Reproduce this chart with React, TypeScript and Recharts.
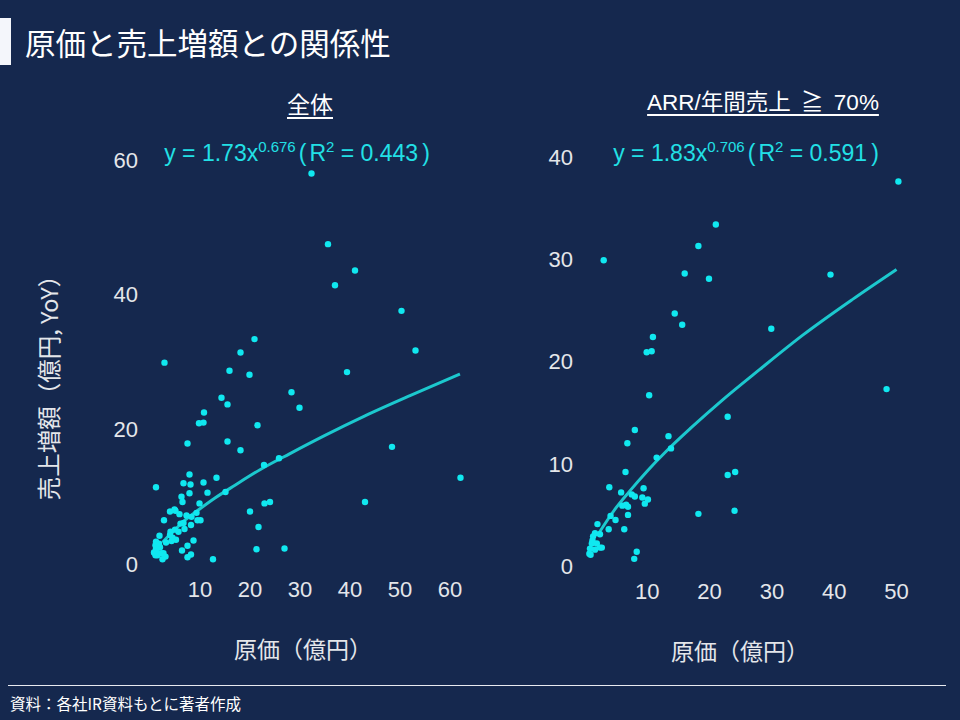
import React from "react";
import { ComposedChart, Scatter, Line, XAxis, YAxis } from "recharts";

// 全体: [原価(億円), 売上増額(億円)]
const allPoints: [number, number][] = [
  [32.3, 58.0], [35.6, 47.5], [41.0, 43.6], [37.0, 41.4], [50.3, 37.6], [20.9, 33.4],
  [53.1, 31.7], [18.1, 31.4], [2.9, 29.9], [15.9, 28.7], [19.9, 28.1], [39.4, 28.5],
  [28.3, 25.5], [29.9, 23.2], [14.3, 24.7], [15.5, 23.7], [10.8, 22.5], [9.8, 20.9],
  [10.7, 21.0], [21.5, 20.6], [7.5, 17.9], [15.5, 18.2], [18.1, 16.9], [48.4, 17.4],
  [22.8, 14.7], [25.8, 15.7], [62.1, 12.8], [1.2, 11.4], [7.9, 13.3], [6.7, 12.0],
  [8.1, 11.8], [10.7, 12.1], [13.3, 12.8], [11.5, 10.6], [7.9, 10.5], [6.3, 10.0],
  [6.5, 9.2], [15.1, 10.7], [9.9, 9.0], [43.0, 9.2], [22.9, 9.0], [24.0, 9.2],
  [20.0, 7.8], [21.7, 5.5], [21.3, 2.2], [26.9, 2.3], [12.6, 0.7],
  [4.0, 7.8], [4.9, 8.1], [5.1, 7.9], [2.8, 6.5], [5.9, 7.4], [7.3, 7.2], [8.3, 7.0],
  [9.3, 7.6], [9.5, 6.5], [10.1, 6.5], [8.2, 5.8], [6.1, 6.0], [6.7, 6.1], [6.9, 5.2],
  [5.0, 5.1], [5.7, 4.8], [4.1, 4.8], [1.9, 4.2], [4.0, 4.3], [4.5, 3.9], [5.2, 3.6],
  [8.7, 3.5], [3.2, 3.2], [4.3, 3.4], [7.5, 2.7], [1.1, 2.8], [1.7, 2.9], [2.0, 2.5],
  [1.2, 2.3], [6.4, 2.0], [0.9, 1.7], [1.5, 1.3], [2.7, 1.6], [3.1, 1.1], [2.5, 0.7],
  [8.2, 1.4], [7.5, 1.0], [1.2, 3.3], [0.8, 1.7], [1.7, 1.6], [1.1, 1.3], [2.3, 1.6],
  [1.8, 3.0],
];

// ARR/年間売上 ≧ 70%
const arrPoints: [number, number][] = [
  [50.3, 37.6], [21.0, 33.4], [18.2, 31.3], [3.0, 29.9], [16.0, 28.6], [19.9, 28.1],
  [39.4, 28.5], [14.4, 24.7], [15.6, 23.6], [29.9, 23.2], [10.9, 22.4], [9.9, 20.9],
  [10.7, 21.0], [48.4, 17.3], [10.3, 16.7], [22.9, 14.6], [8.0, 13.3], [13.4, 12.7],
  [6.8, 12.0], [13.8, 11.5], [11.5, 10.6], [6.5, 9.2], [22.9, 8.9], [24.1, 9.2],
  [3.9, 7.7], [9.4, 7.6], [5.8, 7.2], [7.5, 7.0], [8.0, 6.8], [9.2, 6.7], [10.1, 6.5],
  [9.6, 6.1], [6.0, 5.9], [6.6, 6.0], [6.9, 5.8], [6.9, 5.0], [18.2, 5.1], [24.0, 5.4],
  [4.1, 4.9], [4.9, 4.5], [2.0, 4.1], [3.8, 3.6], [6.3, 3.6], [8.3, 1.4], [7.9, 0.7],
  [1.6, 3.2], [1.3, 2.9], [1.2, 2.5], [1.1, 2.2], [0.8, 1.7], [0.7, 1.2], [0.9, 1.1],
  [1.9, 2.2], [2.4, 1.8], [2.7, 1.8], [1.6, 1.6], [2.4, 3.1],
];

// Fitted curves as drawn
const allTrend: [number, number][] = [
  [2.5, 3.2], [3.5, 4.0], [5, 5.1], [7, 6.5], [10, 8.2], [13, 9.8], [17, 11.7],
  [22, 14.0], [28, 16.4], [35, 19.1], [43, 22.0], [52, 25.0], [62, 28.2],
];
const arrTrend: [number, number][] = [
  [2, 3.0], [3.5, 4.4], [5, 5.7], [7, 7.2], [10, 9.3], [13, 11.2], [17, 13.5],
  [22, 16.2], [28, 19.2], [35, 22.6], [43, 26.1], [50, 29.0],
];

const allXTicks = [10, 20, 30, 40, 50, 60];
const allYTicks = [0, 20, 40, 60];
const arrXTicks = [10, 20, 30, 40, 50];
const arrYTicks = [0, 10, 20, 30, 40];

const BG = "#15284e";
const DOT = "#10e8f0";
const LINE = "#1cc8ce";
const TICK = "#e4e6ea";
const EQ = "#22e0e6";
const NUM_FONT = "'Liberation Sans', Arial, sans-serif";
const JP_FONT = "'Noto Sans CJK JP', 'Noto Sans', sans-serif";

const toObj = (arr: [number, number][]) => arr.map(([x, y]) => ({ x, y }));

const Dot = (props: any) => {
  const { cx, cy } = props;
  if (cx == null || cy == null) return null;
  return <circle cx={cx} cy={cy} r={3.2} fill={DOT} />;
};

type PanelProps = {
  points: [number, number][];
  trend: [number, number][];
  xDomain: [number, number];
  yDomain: [number, number];
  xTicks: number[];
  yTicks: number[];
  width: number;
  height: number;
};

const Panel = ({ points, trend, xDomain, yDomain, xTicks, yTicks, width, height }: PanelProps) => {
  const tickStyle = { fill: TICK, fontSize: 22, fontFamily: NUM_FONT };
  return (
    <ComposedChart
      width={width}
      height={height}
      margin={{ top: 20, right: 10, bottom: 10, left: 10 }}
    >
      <XAxis
        type="number"
        dataKey="x"
        domain={xDomain}
        ticks={xTicks}
        allowDataOverflow
        axisLine={false}
        tickLine={false}
        tick={tickStyle}
        tickMargin={11}
        height={40}
        interval={0}
      />
      <YAxis
        type="number"
        dataKey="y"
        domain={yDomain}
        ticks={yTicks}
        allowDataOverflow
        axisLine={false}
        tickLine={false}
        tick={tickStyle}
        tickMargin={6}
        width={60}
        interval={0}
      />
      <Scatter data={toObj(points)} shape={Dot} isAnimationActive={false} />
      <Line
        data={toObj(trend)}
        dataKey="y"
        type="monotone"
        stroke={LINE}
        strokeWidth={3}
        dot={false}
        activeDot={false}
        isAnimationActive={false}
      />
    </ComposedChart>
  );
};

const abs = (s: React.CSSProperties): React.CSSProperties => ({ position: "absolute", ...s });

const Equation = ({ left, a, b, r2 }: { left: number; a: string; b: string; r2: string }) => (
  <div
    style={abs({
      left,
      width: 300,
      top: 132,
      textAlign: "center",
      fontSize: 23,
      color: EQ,
      lineHeight: "30px",
      whiteSpace: "nowrap",
      fontFamily: NUM_FONT,
    })}
  >
    y = {a}x<sup style={{ fontSize: 15 }}>{b}</sup>
    <span style={{ marginLeft: 3, marginRight: 3 }}>(</span>R<sup style={{ fontSize: 15 }}>2</sup> = {r2}
    <span style={{ marginLeft: 4 }}>)</span>
  </div>
);

export default function App() {
  return (
    <div
      style={{
        position: "absolute",
        left: 0,
        top: 0,
        width: 960,
        height: 720,
        background: BG,
        overflow: "hidden",
        fontFamily: JP_FONT,
      }}
    >
      {/* header */}
      <div style={abs({ left: 0, top: 18, width: 11, height: 47, background: "#f4f6fb" })} />
      <div style={abs({ left: 25, top: 20, fontSize: 30.5, color: "#ffffff", lineHeight: "44px", whiteSpace: "nowrap" })}>
        原価と売上増額との関係性
      </div>

      {/* panel titles */}
      <div style={abs({ left: 210, width: 200, top: 87, textAlign: "center", fontSize: 23, color: "#ffffff", lineHeight: "32px" })}>
        <span style={{ textDecoration: "underline", textUnderlineOffset: 4 }}>全体</span>
      </div>
      <div style={abs({ left: 563, width: 400, top: 87, textAlign: "center", fontSize: 22.5, color: "#ffffff", lineHeight: "32px", whiteSpace: "nowrap", wordSpacing: 4, fontFamily: NUM_FONT + ", " + JP_FONT })}>
        <span style={{ textDecoration: "underline", textUnderlineOffset: 4 }}>ARR/年間売上 ≧ 70%</span>
      </div>

      {/* equations */}
      <Equation left={147} a="1.73" b="0.676" r2="0.443" />
      <Equation left={596} a="1.83" b="0.706" r2="0.591" />

      {/* left chart */}
      <div style={abs({ left: 80, top: 140 })}>
        <Panel
          points={allPoints}
          trend={allTrend}
          xDomain={[0, 64]}
          yDomain={[0, 60]}
          xTicks={allXTicks}
          yTicks={allYTicks}
          width={400}
          height={474}
        />
      </div>

      {/* right chart */}
      <div style={abs({ left: 515, top: 137 })}>
        <Panel
          points={arrPoints}
          trend={arrTrend}
          xDomain={[0, 52]}
          yDomain={[0, 40]}
          xTicks={arrXTicks}
          yTicks={arrYTicks}
          width={404}
          height={479}
        />
      </div>

      {/* y axis label */}
      <div
        style={abs({
          left: 48,
          top: 382,
          transform: "translate(-50%, -50%) rotate(-90deg)",
          fontSize: 23.5,
          color: TICK,
          whiteSpace: "nowrap",
          lineHeight: "30px",
        })}
      >
        売上増額（億円, YoY）
      </div>

      {/* x axis labels */}
      <div style={abs({ left: 234, top: 633, fontSize: 23, color: TICK, lineHeight: "30px", whiteSpace: "nowrap" })}>
        原価（億円）
      </div>
      <div style={abs({ left: 671, top: 635, fontSize: 23, color: TICK, lineHeight: "30px", whiteSpace: "nowrap" })}>
        原価（億円）
      </div>

      {/* footer */}
      <div style={abs({ left: 8, top: 685, width: 938, height: 1, background: "#e8eaf0" })} />
      <div style={abs({ left: 10, top: 693, fontSize: 15.5, color: "#ffffff", lineHeight: "20px", whiteSpace: "nowrap" })}>
        資料：各社IR資料もとに著者作成
      </div>
    </div>
  );
}
